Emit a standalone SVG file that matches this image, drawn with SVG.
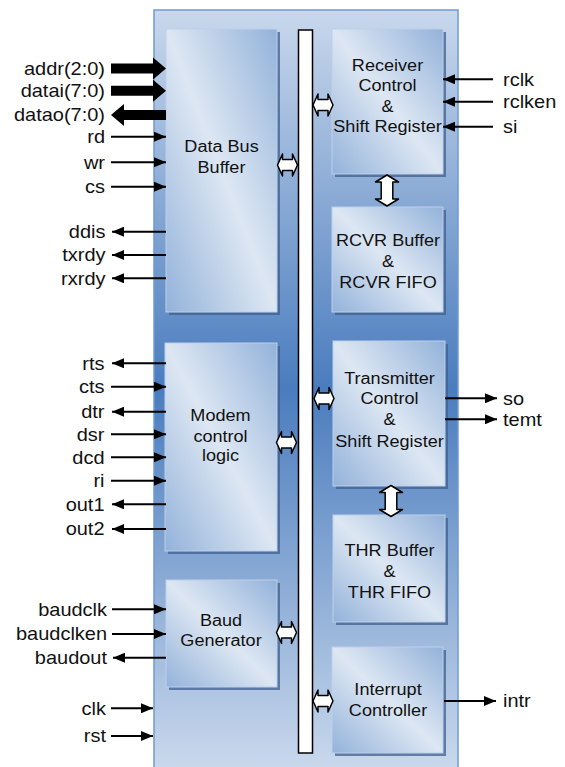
<svg xmlns="http://www.w3.org/2000/svg" xmlns:xlink="http://www.w3.org/1999/xlink" width="565" height="767" viewBox="0 0 565 767">
  <defs>
    <linearGradient id="panelGrad" gradientUnits="userSpaceOnUse" x1="0" y1="10" x2="0" y2="767">
      <stop offset="0" stop-color="#c9d8ec"/>
      <stop offset="0.5" stop-color="#4a7cbe"/>
      <stop offset="1" stop-color="#c9d8ec"/>
    </linearGradient>
    <linearGradient id="blockGrad" x1="0" y1="1" x2="1" y2="0">
      <stop offset="0" stop-color="#93b2da"/>
      <stop offset="0.5" stop-color="#dde7f3"/>
      <stop offset="1" stop-color="#93b2da"/>
    </linearGradient>
    <marker id="ah" markerUnits="userSpaceOnUse" markerWidth="12" markerHeight="10" refX="12" refY="5" orient="auto">
      <path d="M0,0 L12,5 L0,10 z" fill="#000"/>
    </marker>
    <polygon id="dblH" points="-10,0 -5,-11 -5,-5.5 5,-5.5 5,-11 10,0 5,11 5,5.5 -5,5.5 -5,11"/>
    <polygon id="dblV" points="0,-15.5 11.5,-8.5 5.8,-8.5 5.8,8.5 11.5,8.5 0,15.5 -11.5,8.5 -5.8,8.5 -5.8,-8.5 -11.5,-8.5"/>
  </defs>
  <style>
    .shadow { fill: #3f5f8f; opacity: 0.75; }
    .block { fill: url(#blockGrad); stroke: #bdd0ea; stroke-width: 1; }
    .ntext { font-family: "Liberation Sans", Arial, sans-serif; font-size: 16px; fill: #111; text-anchor: middle; }
    .lbl { font-family: "Liberation Sans", Arial, sans-serif; font-size: 18px; fill: #111; }
    .lblL { text-anchor: end; }
    .sig { stroke: #000; stroke-width: 2; fill: none; marker-end: url(#ah); }
    .bus { fill: #000; }
    .dbl { fill: #fff; stroke: #000; stroke-width: 1.5; stroke-linejoin: round; }
  </style>

  <!-- UART container -->
  <g id="uart">
    <rect x="154" y="10" width="304" height="775" fill="url(#panelGrad)" stroke="#6e9bd4" stroke-width="1.5"/>
  </g>

  <!-- internal bus -->
  <g id="internal-bus">
    <rect x="298.5" y="30" width="14" height="723" fill="#fff" stroke="#000" stroke-width="1.5"/>
  </g>

  <!-- functional blocks -->
  <g id="data-bus-buffer">
    <rect class="shadow" x="169" y="32" width="111" height="283"/>
    <rect class="block" x="166" y="29" width="111" height="283"/>
    <text class="ntext" transform="matrix(1.13 0 0 1 221.5 152)">Data Bus</text>
    <text class="ntext" transform="matrix(1.13 0 0 1 221.5 172.5)">Buffer</text>
  </g>

  <g id="modem-control">
    <rect class="shadow" x="168" y="346" width="112" height="208"/>
    <rect class="block" x="165" y="343" width="112" height="208"/>
    <text class="ntext" transform="matrix(1.13 0 0 1 220.5 421)">Modem</text>
    <text class="ntext" transform="matrix(1.13 0 0 1 220.5 441.5)">control</text>
    <text class="ntext" transform="matrix(1.13 0 0 1 220.5 461)">logic</text>
  </g>

  <g id="baud-generator">
    <rect class="shadow" x="169" y="583" width="111" height="107"/>
    <rect class="block" x="166" y="580" width="111" height="107"/>
    <text class="ntext" transform="matrix(1.13 0 0 1 221 625.5)">Baud</text>
    <text class="ntext" transform="matrix(1.13 0 0 1 221 646)">Generator</text>
  </g>

  <g id="receiver-control">
    <rect class="shadow" x="335" y="32" width="111" height="145"/>
    <rect class="block" x="332" y="29" width="111" height="145"/>
    <text class="ntext" transform="matrix(1.13 0 0 1 387.5 70.5)">Receiver</text>
    <text class="ntext" transform="matrix(1.13 0 0 1 387.5 91)">Control</text>
    <text class="ntext" transform="matrix(1.13 0 0 1 387.5 111.5)">&amp;</text>
    <text class="ntext" transform="matrix(1.13 0 0 1 387.5 132)">Shift Register</text>
  </g>

  <g id="rcvr-buffer">
    <rect class="shadow" x="335" y="210" width="111" height="105"/>
    <rect class="block" x="332" y="207" width="111" height="105"/>
    <text class="ntext" transform="matrix(1.13 0 0 1 388 245.5)">RCVR Buffer</text>
    <text class="ntext" transform="matrix(1.13 0 0 1 388 267)">&amp;</text>
    <text class="ntext" transform="matrix(1.13 0 0 1 388 288)">RCVR FIFO</text>
  </g>

  <g id="transmitter-control">
    <rect class="shadow" x="336" y="344" width="112" height="145"/>
    <rect class="block" x="333" y="341" width="112" height="145"/>
    <text class="ntext" transform="matrix(1.13 0 0 1 389.5 383.5)">Transmitter</text>
    <text class="ntext" transform="matrix(1.13 0 0 1 389.5 404)">Control</text>
    <text class="ntext" transform="matrix(1.13 0 0 1 389.5 425)">&amp;</text>
    <text class="ntext" transform="matrix(1.13 0 0 1 389.5 446.5)">Shift Register</text>
  </g>

  <g id="thr-buffer">
    <rect class="shadow" x="336" y="518" width="112" height="107"/>
    <rect class="block" x="333" y="515" width="112" height="107"/>
    <text class="ntext" transform="matrix(1.13 0 0 1 389.5 556)">THR Buffer</text>
    <text class="ntext" transform="matrix(1.13 0 0 1 389.5 576.5)">&amp;</text>
    <text class="ntext" transform="matrix(1.13 0 0 1 389.5 597.5)">THR FIFO</text>
  </g>

  <g id="interrupt-controller">
    <rect class="shadow" x="335" y="650" width="111" height="106"/>
    <rect class="block" x="332" y="647" width="111" height="106"/>
    <text class="ntext" transform="matrix(1.13 0 0 1 388 694.5)">Interrupt</text>
    <text class="ntext" transform="matrix(1.13 0 0 1 388 715.5)">Controller</text>
  </g>

  <!-- connectors -->
  <g id="connectors">
    <!-- wide data-bus arrows -->
    <polygon class="bus" points="111,63.5 153,63.5 153,57.5 166,68.5 153,79.5 153,73.5 111,73.5"/>
    <polygon class="bus" points="111,85.7 153,85.7 153,79.7 166,90.7 153,101.7 153,95.7 111,95.7"/>
    <polygon class="bus" points="166,110 124,110 124,104 111,115 124,126 124,120 166,120"/>

    <!-- host side signals -->
    <line class="sig" x1="111" y1="136.7" x2="166" y2="136.7"/>
    <line class="sig" x1="111" y1="162.3" x2="166" y2="162.3"/>
    <line class="sig" x1="111" y1="186.7" x2="166" y2="186.7"/>
    <line class="sig" x1="166" y1="231.7" x2="112" y2="231.7"/>
    <line class="sig" x1="166" y1="255" x2="112" y2="255"/>
    <line class="sig" x1="166" y1="278.3" x2="112" y2="278.3"/>

    <!-- modem signals -->
    <line class="sig" x1="166" y1="363.3" x2="112" y2="363.3"/>
    <line class="sig" x1="111" y1="386.7" x2="166" y2="386.7"/>
    <line class="sig" x1="166" y1="411.7" x2="112" y2="411.7"/>
    <line class="sig" x1="111" y1="434.3" x2="166" y2="434.3"/>
    <line class="sig" x1="111" y1="457.3" x2="166" y2="457.3"/>
    <line class="sig" x1="111" y1="480.7" x2="166" y2="480.7"/>
    <line class="sig" x1="166" y1="504.3" x2="112" y2="504.3"/>
    <line class="sig" x1="166" y1="529" x2="112" y2="529"/>

    <!-- baud signals -->
    <line class="sig" x1="112" y1="609.3" x2="166" y2="609.3"/>
    <line class="sig" x1="112" y1="634" x2="166" y2="634"/>
    <line class="sig" x1="166" y1="657.7" x2="113" y2="657.7"/>

    <!-- clock and reset -->
    <line class="sig" x1="111" y1="708.3" x2="153" y2="708.3"/>
    <line class="sig" x1="111" y1="736" x2="153" y2="736"/>

    <!-- serial side signals -->
    <line class="sig" x1="493" y1="79.3" x2="443" y2="79.3"/>
    <line class="sig" x1="493" y1="101.7" x2="443" y2="101.7"/>
    <line class="sig" x1="493" y1="126.7" x2="443" y2="126.7"/>
    <line class="sig" x1="445" y1="398.3" x2="497" y2="398.3"/>
    <line class="sig" x1="445" y1="419.3" x2="497" y2="419.3"/>
    <line class="sig" x1="444" y1="701" x2="496" y2="701"/>

    <!-- bus links -->
    <use class="dbl" href="#dblH" x="287.5" y="165"/>
    <use class="dbl" href="#dblH" x="286.5" y="442.5"/>
    <use class="dbl" href="#dblH" x="286.5" y="632.5"/>
    <use class="dbl" href="#dblH" x="323" y="105"/>
    <use class="dbl" href="#dblH" x="324" y="398.5"/>
    <use class="dbl" href="#dblH" x="323" y="701"/>
    <use class="dbl" href="#dblV" x="387" y="190.5"/>
    <use class="dbl" href="#dblV" x="391" y="501"/>
  </g>

  <!-- pin labels -->
  <g id="labels">
    <text class="lbl lblL" transform="matrix(1.11 0 0 1 105 74.5)">addr(2:0)</text>
    <text class="lbl lblL" transform="matrix(1.11 0 0 1 105 97)">datai(7:0)</text>
    <text class="lbl lblL" transform="matrix(1.11 0 0 1 105 121)">datao(7:0)</text>
    <text class="lbl lblL" transform="matrix(1.11 0 0 1 105 143)">rd</text>
    <text class="lbl lblL" transform="matrix(1.11 0 0 1 105 168.5)">wr</text>
    <text class="lbl lblL" transform="matrix(1.11 0 0 1 105 193)">cs</text>
    <text class="lbl lblL" transform="matrix(1.11 0 0 1 105.5 238)">ddis</text>
    <text class="lbl lblL" transform="matrix(1.11 0 0 1 105.5 261)">txrdy</text>
    <text class="lbl lblL" transform="matrix(1.11 0 0 1 105.5 284.5)">rxrdy</text>
    <text class="lbl lblL" transform="matrix(1.11 0 0 1 104.5 369.5)">rts</text>
    <text class="lbl lblL" transform="matrix(1.11 0 0 1 104.5 393)">cts</text>
    <text class="lbl lblL" transform="matrix(1.11 0 0 1 104.5 418)">dtr</text>
    <text class="lbl lblL" transform="matrix(1.11 0 0 1 104.5 440.5)">dsr</text>
    <text class="lbl lblL" transform="matrix(1.11 0 0 1 104.5 463.5)">dcd</text>
    <text class="lbl lblL" transform="matrix(1.11 0 0 1 104.5 487)">ri</text>
    <text class="lbl lblL" transform="matrix(1.11 0 0 1 104.5 510.5)">out1</text>
    <text class="lbl lblL" transform="matrix(1.11 0 0 1 104.5 535)">out2</text>
    <text class="lbl lblL" transform="matrix(1.11 0 0 1 107 615.5)">baudclk</text>
    <text class="lbl lblL" transform="matrix(1.11 0 0 1 107 640)">baudclken</text>
    <text class="lbl lblL" transform="matrix(1.11 0 0 1 107 664)">baudout</text>
    <text class="lbl lblL" transform="matrix(1.11 0 0 1 106 714.5)">clk</text>
    <text class="lbl lblL" transform="matrix(1.11 0 0 1 106 742)">rst</text>
    <text class="lbl" transform="matrix(1.11 0 0 1 503 85.5)">rclk</text>
    <text class="lbl" transform="matrix(1.11 0 0 1 503 108)">rclken</text>
    <text class="lbl" transform="matrix(1.11 0 0 1 503 133)">si</text>
    <text class="lbl" transform="matrix(1.11 0 0 1 503 404.5)">so</text>
    <text class="lbl" transform="matrix(1.11 0 0 1 503 425.5)">temt</text>
    <text class="lbl" transform="matrix(1.11 0 0 1 503 707)">intr</text>
  </g>
</svg>
